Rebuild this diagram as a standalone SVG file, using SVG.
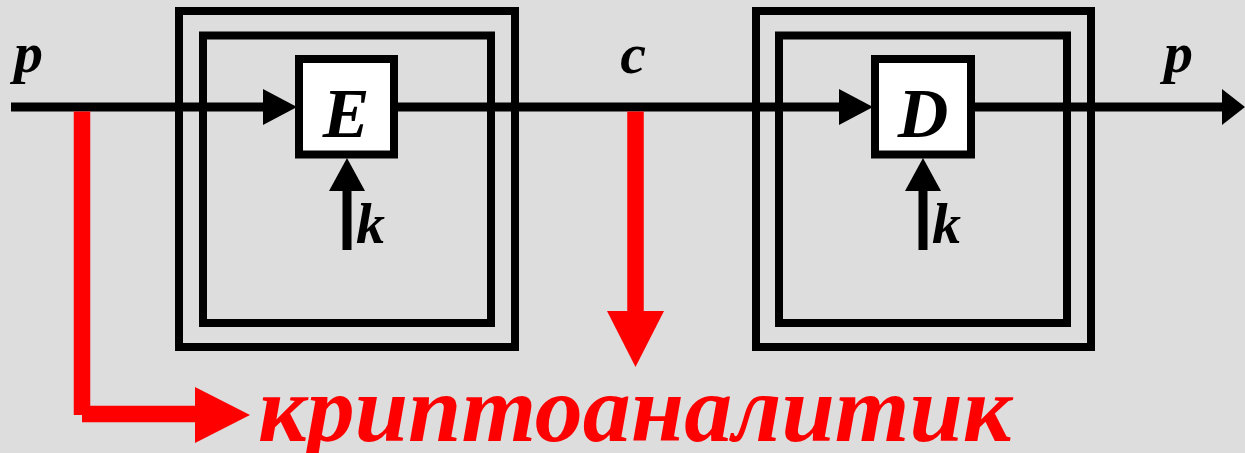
<svg xmlns="http://www.w3.org/2000/svg" width="1245" height="453" viewBox="0 0 1245 453">
<style>
.frame{fill:none;stroke:#000;stroke-width:8}
.blk{fill:#fff;stroke:#000;stroke-width:8}
.ln{stroke:#000;stroke-width:9;fill:none}
.red{stroke:#f00;stroke-width:16.5;fill:none}
.lbl{font-family:"Liberation Serif","Times New Roman",serif;font-weight:bold;font-style:italic;fill:#000}
.big{font-family:"Liberation Serif","Times New Roman",serif;font-weight:bold;font-style:italic;fill:#f00}
</style>
<rect width="1245" height="453" fill="#ddd"/>
<g id="enc-frame">
<rect class="frame" x="179" y="11" width="336" height="336"/>
<rect class="frame" x="203" y="35.5" width="288" height="287.5"/>
</g>
<g id="dec-frame">
<rect class="frame" x="756" y="11" width="335" height="336"/>
<rect class="frame" x="779" y="35.5" width="288" height="287.5"/>
</g>
<g id="connectors">
<line class="ln" x1="11" y1="107" x2="265" y2="107"/>
<polygon points="263,89 297,107 263,125" fill="#000"/>
<line class="ln" x1="398" y1="107" x2="841" y2="107"/>
<polygon points="839,89 873,107 839,125" fill="#000"/>
<line class="ln" x1="975" y1="107" x2="1224" y2="107"/>
<polygon points="1222,89 1245,107 1222,125" fill="#000"/>
<line class="ln" x1="347" y1="250" x2="347" y2="188"/>
<polygon points="329,191 347,158 365,191" fill="#000"/>
<line class="ln" x1="923" y1="250" x2="923" y2="188"/>
<polygon points="905,191 923,158 941,191" fill="#000"/>
<line class="red" x1="82" y1="111.5" x2="82" y2="415"/>
<line class="red" x1="82" y1="414" x2="197" y2="414"/>
<polygon points="195,387 250,415 195,443" fill="#f00"/>
<line class="red" x1="635.5" y1="111.5" x2="635.5" y2="313"/>
<polygon points="607,311 664,311 635.5,367" fill="#f00"/>
</g>
<g id="E">
<rect class="blk" x="299" y="59" width="95" height="95.5"/>
<text class="lbl" x="346" y="137" font-size="70" text-anchor="middle">E</text>
</g>
<g id="D">
<rect class="blk" x="875" y="59" width="96" height="95.5"/>
<text class="lbl" x="923" y="137" font-size="70" text-anchor="middle">D</text>
</g>
<g id="labels">
<text class="lbl" x="14" y="72" font-size="58">p</text>
<text class="lbl" x="1164" y="72" font-size="58">p</text>
<text class="lbl" x="633" y="73" font-size="58" text-anchor="middle">c</text>
<text class="lbl" x="356" y="243" font-size="58">k</text>
<text class="lbl" x="932" y="243" font-size="58">k</text>
<text class="big" x="258" y="441" font-size="96">криптоаналитик</text>
</g>
</svg>
